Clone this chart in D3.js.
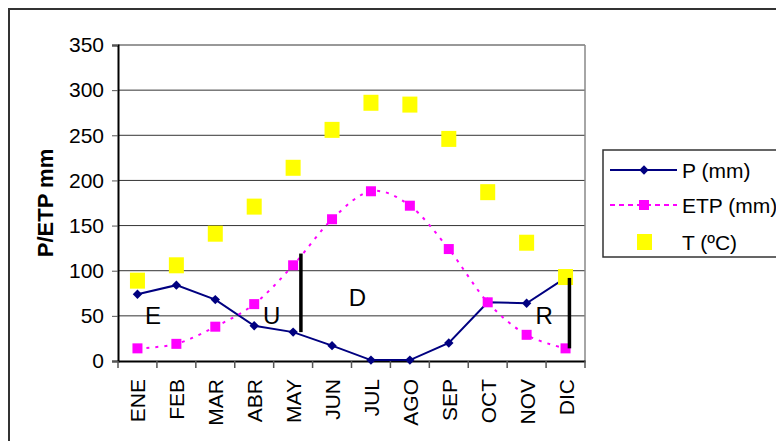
<!DOCTYPE html>
<html>
  <head>
    <meta charset="utf-8">
    <title>P / ETP</title>
    <script src="https://d3js.org/d3.v7.min.js"></script>
    <style>
      body { margin: 0; background: #fff; }
      text { font-family: "Liberation Sans", Arial, sans-serif; }
    </style>
  </head>
  <body>
    <script>
        // data
        var months = ["ENE","FEB","MAR","ABR","MAY","JUN","JUL","AGO","SEP","OCT","NOV","DIC"];
        var pVals   = [74, 84, 68, 39, 32, 17, 1, 1, 20, 65, 64, 92];
        var etpVals = [14, 19, 38, 63, 106, 157, 188, 172, 124, 65, 29, 14];
        var tVals   = [89, 106, 141, 171, 214, 256, 286, 284, 246, 187, 131, 93];
        var yTicks  = [0, 50, 100, 150, 200, 250, 300, 350];
        // black bars: position in month units, from / to in mm
        var bars = [{at: 4.7, from: 32, to: 119}, {at: 11.6, from: 14, to: 92}];
        // period letters
        var periods = [{t: "E", at: 0.9, v: 50}, {t: "U", at: 3.95, v: 50},
                       {t: "D", at: 6.15, v: 70}, {t: "R", at: 10.95, v: 51}];
        var legendItems = ["P (mm)", "ETP (mm)", "T (ºC)"];

        var width = 776, height = 441;
        var plotL = 118, plotR = 585, plotT = 45, plotB = 361;

        var svg = d3.select("body").append("svg")
            .attr("width", width)
            .attr("height", height)
        ;

        // outer chart border (clipped on right/bottom like the original)
        svg.append("rect")
            .attr("x", 9).attr("y", 9)
            .attr("width", 900).attr("height", 600)
            .attr("fill", "none")
            .attr("stroke", "#333")
            .attr("stroke-width", 2)
        ;

        var x = d3.scaleBand().domain(months).range([plotL, plotR]);
        var xi = d3.scaleLinear().domain([0, 12]).range([plotL, plotR]);
        var y = d3.scaleLinear().domain([0, 350]).range([plotB, plotT]);

        // gridlines
        svg.append("g")
            .selectAll("line")
            .data(yTicks.slice(1))
            .enter()
            .append("line")
            .attr("x1", plotL).attr("x2", plotR)
            .attr("y1", (d) => y(d)).attr("y2", (d) => y(d))
            .attr("stroke", "#333")
            .attr("stroke-width", 1)
        ;
        // plot area right border
        svg.append("line")
            .attr("x1", plotR).attr("x2", plotR)
            .attr("y1", plotT).attr("y2", plotB)
            .attr("stroke", "#888")
            .attr("stroke-width", 1.5)
        ;

        // y axis
        var axisY = d3.axisLeft(y).tickValues(yTicks).tickSize(6).tickPadding(8);
        var gy = svg.append("g")
            .attr("transform", "translate(" + plotL + ",0)")
            .call(axisY)
        ;
        gy.select(".domain").attr("stroke", "#000").attr("stroke-width", 2);
        gy.selectAll(".tick line").attr("stroke", "#555");
        gy.selectAll("text")
            .attr("font-family", "Liberation Sans, Arial, sans-serif")
            .attr("font-size", 21)
            .attr("fill", "#000")
        ;

        // x axis
        var axisX = d3.axisBottom(x).tickSize(0).tickPadding(0);
        var gx = svg.append("g")
            .attr("transform", "translate(0," + plotB + ")")
            .call(axisX)
        ;
        gx.select(".domain").attr("stroke", "#000").attr("stroke-width", 2);
        gx.selectAll("text")
            .attr("font-family", "Liberation Sans, Arial, sans-serif")
            .attr("font-size", 21)
            .attr("fill", "#000")
            .attr("text-anchor", "end")
            .attr("dy", null)
            .attr("transform", "translate(8,18) rotate(-90)")
        ;
        // band boundary ticks
        svg.append("g")
            .selectAll("line")
            .data(d3.range(13))
            .enter()
            .append("line")
            .attr("x1", (d) => xi(d)).attr("x2", (d) => xi(d))
            .attr("y1", plotB).attr("y2", plotB + 7)
            .attr("stroke", "#555")
            .attr("stroke-width", 1.5)
        ;

        // y title
        svg.append("text")
            .attr("transform", "translate(53," + ((plotT + plotB) / 2) + ") rotate(-90)")
            .attr("text-anchor", "middle")
            .attr("font-size", 22)
            .attr("font-weight", "bold")
            .text("P/ETP mm")
        ;

        var cx = (d, i) => x(months[i]) + x.bandwidth() / 2;

        // P line (series drawn first, under the others)
        var pLine = d3.line()
            .x((d, i) => cx(d, i))
            .y((d) => y(d));
        svg.append("path")
            .datum(pVals)
            .attr("d", pLine)
            .attr("fill", "none")
            .attr("stroke", "#000080")
            .attr("stroke-width", 2)
        ;
        var diamond = d3.symbol().type(d3.symbolSquare).size(44);
        svg.append("g")
            .selectAll("path")
            .data(pVals)
            .enter()
            .append("path")
            .attr("d", diamond)
            .attr("transform", (d, i) => "translate(" + cx(d, i) + "," + y(d) + ") rotate(45)")
            .attr("fill", "#000080")
        ;

        // ETP smooth dashed line
        var etpLine = d3.line()
            .x((d, i) => cx(d, i))
            .y((d) => y(d))
            .curve(d3.curveCatmullRom.alpha(0));
        svg.append("path")
            .datum(etpVals)
            .attr("d", etpLine)
            .attr("fill", "none")
            .attr("stroke", "#ff00ff")
            .attr("stroke-width", 2)
            .attr("stroke-dasharray", "3,6")
        ;
        svg.append("g")
            .selectAll("rect")
            .data(etpVals)
            .enter()
            .append("rect")
            .attr("x", (d, i) => cx(d, i) - 5)
            .attr("y", (d) => y(d) - 5)
            .attr("width", 10).attr("height", 10)
            .attr("fill", "#ff00ff")
        ;

        // T squares
        svg.append("g")
            .selectAll("rect")
            .data(tVals)
            .enter()
            .append("rect")
            .attr("x", (d, i) => cx(d, i) - 7.5)
            .attr("y", (d) => y(d) - 8)
            .attr("width", 15).attr("height", 16)
            .attr("fill", "#ffff00")
        ;

        // black bars
        svg.append("g")
            .selectAll("line")
            .data(bars)
            .enter()
            .append("line")
            .attr("x1", (d) => xi(d.at)).attr("x2", (d) => xi(d.at))
            .attr("y1", (d) => y(d.from)).attr("y2", (d) => y(d.to))
            .attr("stroke", "#000")
            .attr("stroke-width", 3.5)
        ;

        // period letters
        svg.append("g")
            .selectAll("text")
            .data(periods)
            .enter()
            .append("text")
            .attr("x", (d) => xi(d.at))
            .attr("y", (d) => y(d.v))
            .attr("dy", "0.36em")
            .attr("text-anchor", "middle")
            .attr("font-size", 24)
            .text((d) => d.t)
        ;

        // legend
        var lg = svg.append("g");
        lg.append("rect")
            .attr("x", 603).attr("y", 150)
            .attr("width", 300).attr("height", 107)
            .attr("fill", "#fff")
            .attr("stroke", "#333")
            .attr("stroke-width", 1.5)
        ;
        var rowY = [170, 205, 242];
        lg.append("line")
            .attr("x1", 610).attr("x2", 677).attr("y1", rowY[0]).attr("y2", rowY[0])
            .attr("stroke", "#000080").attr("stroke-width", 2);
        lg.append("path")
            .attr("d", diamond)
            .attr("transform", "translate(644," + rowY[0] + ") rotate(45)")
            .attr("fill", "#000080");
        lg.append("line")
            .attr("x1", 610).attr("x2", 677).attr("y1", rowY[1]).attr("y2", rowY[1])
            .attr("stroke", "#ff00ff").attr("stroke-width", 2)
            .attr("stroke-dasharray", "5,4");
        lg.append("rect")
            .attr("x", 639).attr("y", rowY[1] - 5).attr("width", 10).attr("height", 10)
            .attr("fill", "#ff00ff");
        lg.append("rect")
            .attr("x", 637).attr("y", rowY[2] - 8).attr("width", 15).attr("height", 16)
            .attr("fill", "#ffff00");
        lg.selectAll("text.lab")
            .data(legendItems)
            .enter()
            .append("text")
            .classed("lab", true)
            .attr("x", 682)
            .attr("y", (d, i) => rowY[i])
            .attr("dy", "0.36em")
            .attr("font-size", 21)
            .text((d) => d)
        ;
    </script>
  </body>
</html>
